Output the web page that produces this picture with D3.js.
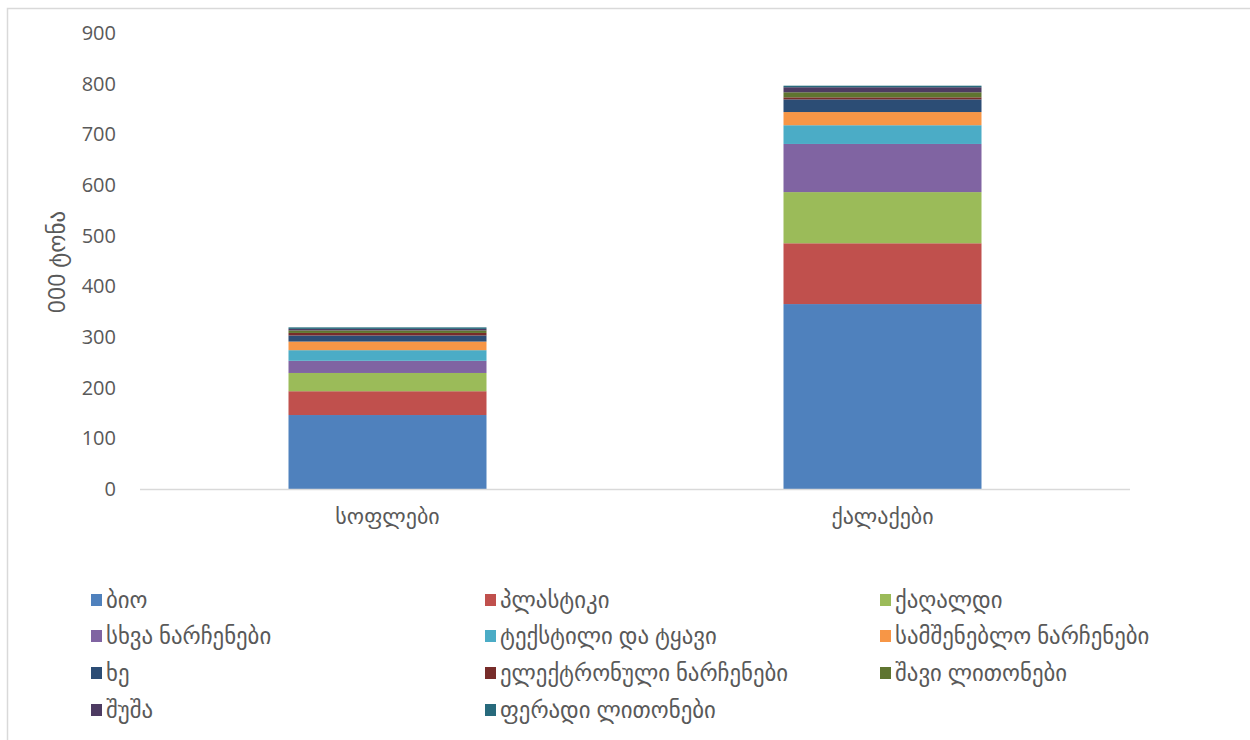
<!DOCTYPE html>
<html><head><meta charset="utf-8">
<script src="https://cdn.jsdelivr.net/npm/d3@7/dist/d3.min.js"></script>
<style>body{margin:0;background:#fff;} svg{display:block;}</style>
</head><body>
<svg id="c" width="1250" height="740"></svg>
<script>
const categories = ["სოფლები", "ქალაქები"];
const seriesNames = ["ბიო","პლასტიკი","ქაღალდი","სხვა ნარჩენები","ტექსტილი და ტყავი","სამშენებლო ნარჩენები","ხე","ელექტრონული ნარჩენები","შავი ლითონები","შუშა","ფერადი ლითონები"];
const villageValues = [146, 47, 36, 24, 21, 17, 12, 5, 5, 3, 3];
const cityValues = [365, 120, 101, 95, 37, 26, 25, 4, 10, 10, 3];
const colors = ["#4F81BD","#C0504D","#9BBB59","#8064A2","#4BACC6","#F79646","#2C4D75","#772C2A","#5F7530","#4D3B62","#276A7C"];
const yTicks = [0,100,200,300,400,500,600,700,800,900];
const yTitle = "000 ტონა";

(function(){
const svg = d3.select("#c");
const font = "'Open Sans','DejaVu Sans',sans-serif";
const textColor = "#595959";

svg.append("rect").attr("x",7.5).attr("y",8.5).attr("width",1300).attr("height",800)
  .attr("fill","#fff").attr("stroke","#d9d9d9").attr("stroke-width",1.5);

const pl = 140, pr = 1130, pt = 33, pb = 489;
const x = d3.scaleBand().domain(categories).range([pl,pr]).paddingInner(0.6).paddingOuter(0.3);
const y = d3.scaleLinear().domain([0,900]).range([pb,pt]);

const table = categories.map((c,i)=>{
  const o = {cat:c};
  seriesNames.forEach((s,j)=>{ o[s] = (i===0?villageValues:cityValues)[j]; });
  return o;
});
const stacked = d3.stack().keys(seriesNames)(table);

const g = svg.append("g");
stacked.forEach((layer,j)=>{
  g.selectAll(null).data(layer).enter().append("rect")
    .attr("x", d=>x(d.data.cat))
    .attr("width", x.bandwidth())
    .attr("y", d=>y(d[1]))
    .attr("height", d=>y(d[0])-y(d[1]))
    .attr("fill", colors[j]);
});

svg.append("line").attr("x1",pl).attr("x2",pr).attr("y1",pb+0.5).attr("y2",pb+0.5)
  .attr("stroke","#d9d9d9").attr("stroke-width",1.5);

const yAxis = d3.axisLeft(y).tickValues(yTicks).tickSize(0).tickPadding(0);
const ya = svg.append("g").attr("transform",`translate(116,0)`).call(yAxis);
ya.select(".domain").remove();
ya.selectAll("text").attr("font-family",font).attr("font-size","20px").attr("fill",textColor);

const xAxis = d3.axisBottom(x).tickSize(0).tickPadding(0);
const xa = svg.append("g").attr("transform",`translate(0,${pb+19})`).call(xAxis);
xa.select(".domain").remove();
xa.selectAll("text").attr("font-family",font).attr("font-size","22px").attr("fill",textColor);

svg.append("text").attr("transform","translate(65,262) rotate(-90)")
  .attr("text-anchor","middle").attr("font-family",font).attr("font-size","23px")
  .attr("fill",textColor).text(yTitle);

const colX = [91, 485, 880], rowY = [600, 636, 673, 710];
seriesNames.forEach((s,i)=>{
  const cx = colX[i%3], cy = rowY[Math.floor(i/3)];
  svg.append("rect").attr("x",cx).attr("y",cy-6).attr("width",11).attr("height",12).attr("fill",colors[i]);
  svg.append("text").attr("x",cx+15).attr("y",cy).attr("dy","0.35em")
    .attr("font-family",font).attr("font-size","22.8px").attr("fill",textColor).text(s);
});
})();
</script>
</body></html>
